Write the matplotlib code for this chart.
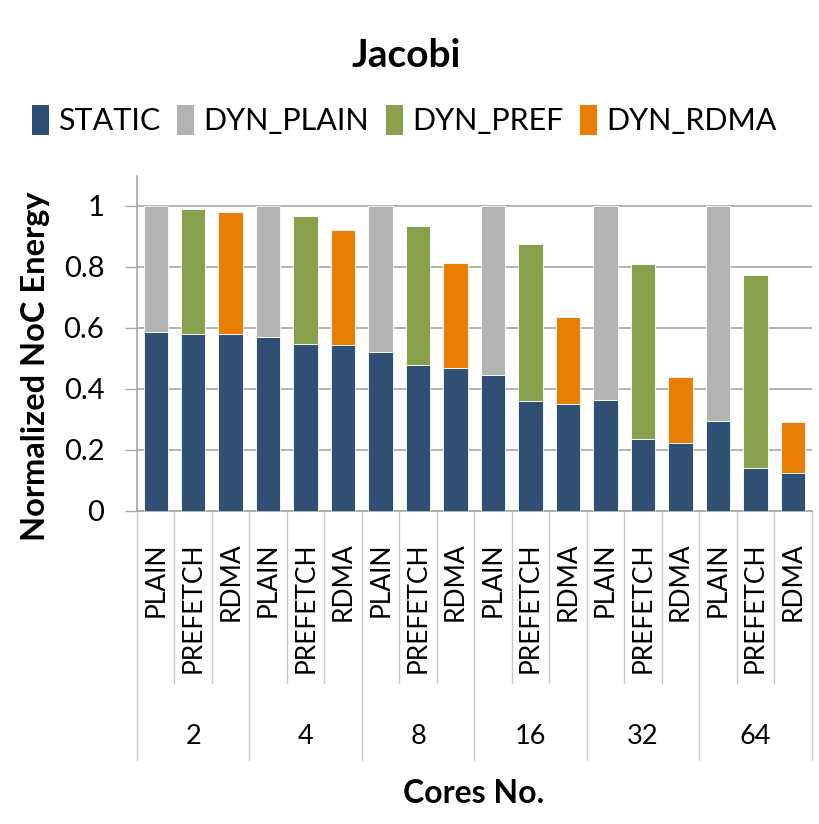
import matplotlib.pyplot as plt
from matplotlib.patches import Patch
from matplotlib.transforms import blended_transform_factory

plt.rcParams['font.family'] = ['Lato', 'DejaVu Sans']

cores = ['2', '4', '8', '16', '32', '64']
configs = ['PLAIN', 'PREFETCH', 'RDMA']
series = ['STATIC', 'DYN_PLAIN', 'DYN_PREF', 'DYN_RDMA']
colors = ['#2F5072', '#B3B3B3', '#86A04B', '#E87E04']

# static part for each config, per core count
static_plain = [0.588, 0.569, 0.522, 0.446, 0.365, 0.296]
static_pref = [0.581, 0.549, 0.479, 0.361, 0.236, 0.141]
static_rdma = [0.579, 0.545, 0.470, 0.352, 0.222, 0.125]
# dynamic part stacked on top
dyn_plain = [0.412, 0.431, 0.478, 0.554, 0.635, 0.704]
dyn_pref = [0.408, 0.419, 0.455, 0.513, 0.574, 0.634]
dyn_rdma = [0.400, 0.377, 0.342, 0.285, 0.218, 0.166]

y_ticks = [0, 0.2, 0.4, 0.6, 0.8, 1]
y_tick_labels = ['0', '0.2', '0.4', '0.6', '0.8', '1']

GRID = '#A6A6A6'


def main():
    fig = plt.figure(figsize=(8.2, 8.24), dpi=100)
    ax = fig.add_axes([0.167, 0.380, 0.823, 0.407])

    statics = [static_plain, static_pref, static_rdma]
    dyns = [dyn_plain, dyn_pref, dyn_rdma]
    width = 0.65
    for j in range(3):
        xs = [3 * i + j for i in range(len(cores))]
        ax.bar(xs, statics[j], width, color=colors[0], edgecolor='white', linewidth=0.6, zorder=3)
        ax.bar(xs, dyns[j], width, bottom=statics[j], color=colors[j + 1],
               edgecolor='white', linewidth=0.6, zorder=3)

    n = 3 * len(cores)
    ax.set_xlim(-0.5, n - 0.5)
    ax.set_ylim(0, 1.1)
    ax.set_yticks(y_ticks)
    ax.set_yticklabels(y_tick_labels, fontsize=21)
    ax.yaxis.grid(True, color=GRID, linewidth=1.2, zorder=0)
    ax.tick_params(axis='y', direction='out', length=8.5, width=1, color=GRID, pad=15)
    ax.set_xticks([])
    for s in ['top', 'right']:
        ax.spines[s].set_visible(False)
    for s in ['left', 'bottom']:
        ax.spines[s].set_color(GRID)
        ax.spines[s].set_linewidth(1.2)

    # two-level category axis
    tr = blended_transform_factory(ax.transData, ax.transAxes)
    for k in range(n + 1):
        low = -0.742 if k % 3 == 0 else -0.513
        ax.plot([k - 0.5, k - 0.5], [0, low], transform=tr, color='#C8C8C8',
                linewidth=1, clip_on=False)
    for i, c in enumerate(cores):
        for j, cfg in enumerate(configs):
            ax.text(3 * i + j, -0.095, cfg, transform=tr, rotation=90,
                    ha='center', va='top', fontsize=19)
        ax.text(3 * i + 1, -0.674, c, transform=tr, ha='center', va='center', fontsize=19.5)

    fig.text(0.578, 0.037, 'Cores No.', ha='center', va='center', fontsize=23, fontweight='bold')
    fig.text(0.043, 0.555, 'Normalized NoC Energy', rotation=90, ha='center', va='center',
             fontsize=23.5, fontweight='bold')
    fig.text(0.495, 0.933, 'Jacobi', ha='center', va='center', fontsize=28, fontweight='bold')

    handles = [Patch(facecolor=col, edgecolor='none') for col in colors]
    fig.legend(handles, series, loc='center', bbox_to_anchor=(0.493, 0.854), ncol=4,
               frameon=False, fontsize=22, handlelength=0.55, handleheight=1.1,
               handletextpad=0.3, columnspacing=0.55)

    fig.savefig('out.png', dpi=100)


if __name__ == "__main__":
    main()
